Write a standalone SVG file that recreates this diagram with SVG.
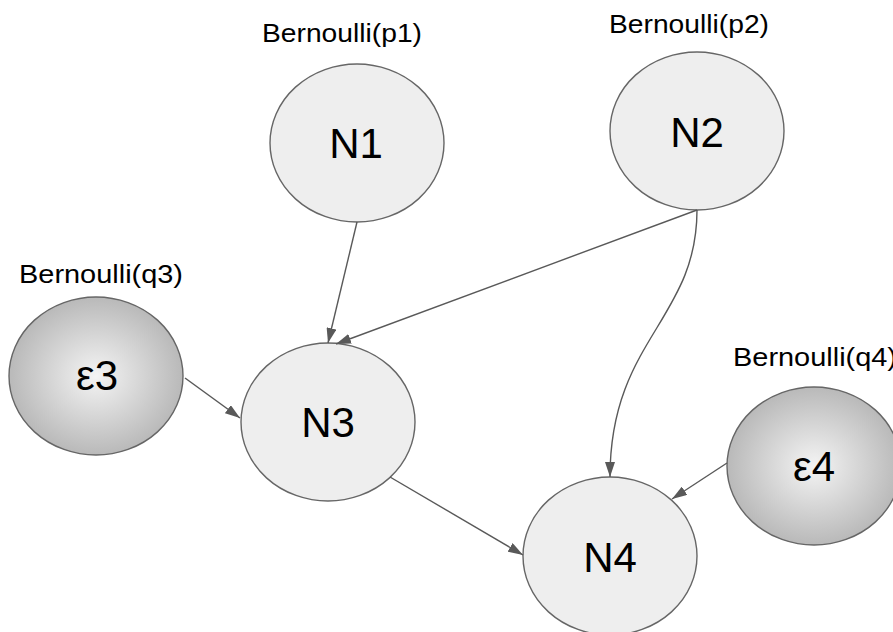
<svg xmlns="http://www.w3.org/2000/svg" width="893" height="632" viewBox="0 0 893 632">
<style>
.node{fill:#eeeeee;stroke:#666666;stroke-width:1.4}
.noise{fill:url(#rg);stroke:#666666;stroke-width:1.4}
.nl{font-family:"Liberation Sans",Arial,sans-serif;font-size:42px;fill:#000;text-anchor:middle}
.lb{font-family:"Liberation Sans",Arial,sans-serif;font-size:26px;fill:#000}
.edge{fill:none;stroke:#595959;stroke-width:1.4;marker-end:url(#ah)}
</style>
<defs>
<radialGradient id="rg" cx="50%" cy="50%" r="50%">
<stop offset="0" stop-color="#f4f4f4"/>
<stop offset="1" stop-color="#b9b9b9"/>
</radialGradient>
<marker id="ah" viewBox="0 0 15 10" refX="15" refY="5" markerWidth="15" markerHeight="10" markerUnits="userSpaceOnUse" orient="auto">
<path d="M0,0 L15,5 L0,10 z" fill="#595959"/>
</marker>
</defs>
<rect width="893" height="632" fill="#ffffff"/>
<g id="label-p1"><text class="lb" x="262" y="42" textLength="160" lengthAdjust="spacingAndGlyphs">Bernoulli(p1)</text></g>
<g id="label-p2"><text class="lb" x="609" y="33" textLength="160" lengthAdjust="spacingAndGlyphs">Bernoulli(p2)</text></g>
<g id="label-q3"><text class="lb" x="19" y="283" textLength="164" lengthAdjust="spacingAndGlyphs">Bernoulli(q3)</text></g>
<g id="label-q4"><text class="lb" x="733" y="366" textLength="164" lengthAdjust="spacingAndGlyphs">Bernoulli(q4)</text></g>
<g id="N1"><ellipse class="node" cx="357" cy="143" rx="87" ry="79"/><text class="nl" x="356" y="158">N1</text></g>
<g id="N2"><ellipse class="node" cx="697" cy="131" rx="87" ry="79"/><text class="nl" x="697" y="147">N2</text></g>
<g id="N3"><ellipse class="node" cx="328" cy="422" rx="87" ry="79"/><text class="nl" x="328" y="437">N3</text></g>
<g id="N4"><ellipse class="node" cx="610" cy="556" rx="87" ry="79"/><text class="nl" x="610" y="572">N4</text></g>
<g id="E3"><ellipse class="noise" cx="96" cy="376" rx="87" ry="79"/><text class="nl" x="97" y="390">ε3</text></g>
<g id="E4"><ellipse class="noise" cx="814" cy="466" rx="87" ry="79"/><text class="nl" x="814" y="481">ε4</text></g>
<g id="connectors">
<path class="edge" d="M357,222 L328,343"/>
<path class="edge" d="M697,210 L336,344"/>
<path class="edge" d="M697,210 C697,320 610,340 610,477"/>
<path class="edge" d="M185,378 L240,418"/>
<path class="edge" d="M390,477 L523,555"/>
<path class="edge" d="M727,463 L672,499"/>
</g>
</svg>
